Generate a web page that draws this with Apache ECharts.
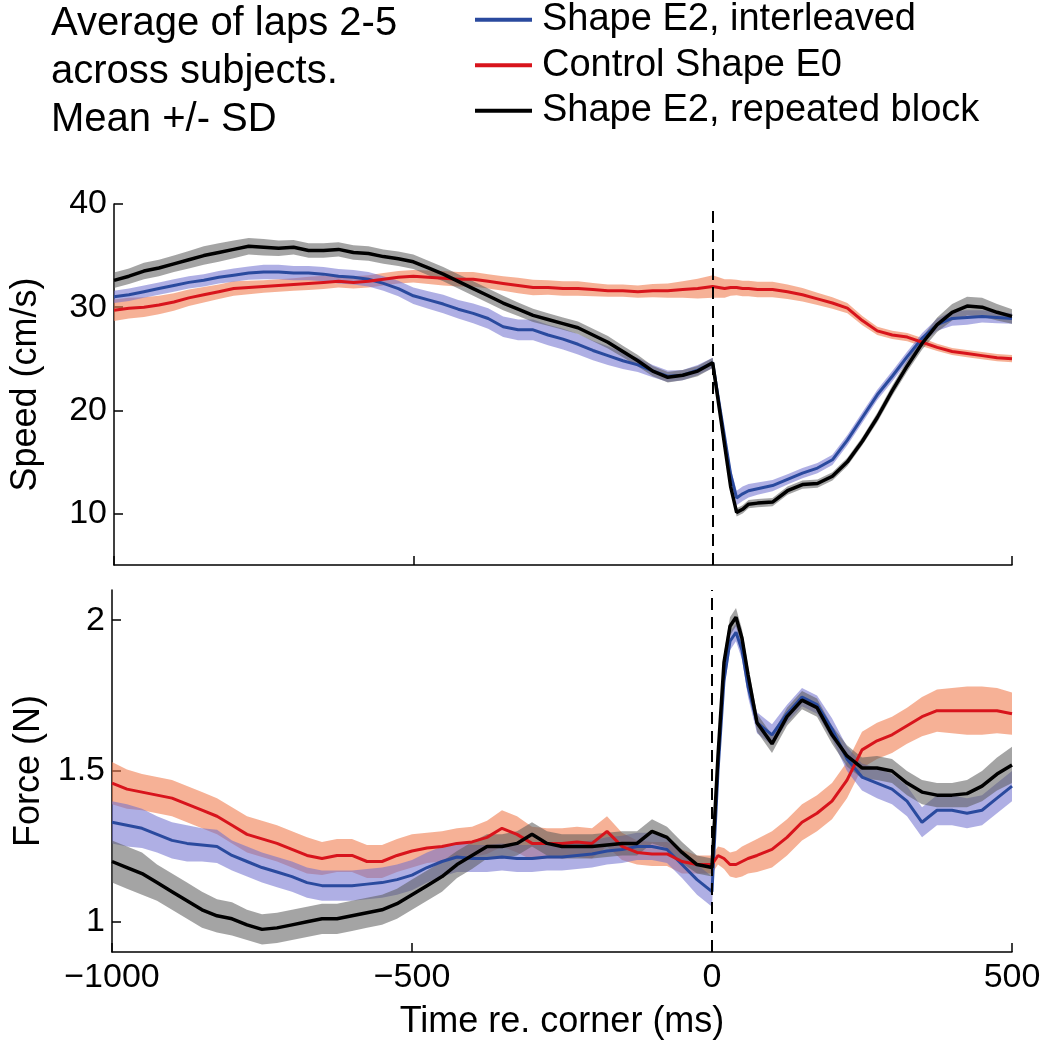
<!DOCTYPE html>
<html>
<head>
<meta charset="utf-8">
<script src="https://cdn.jsdelivr.net/npm/echarts@6/dist/echarts.min.js"></script>
<style>
  html, body { margin: 0; padding: 0; background: #ffffff; }
  #chart { width: 1044px; height: 1050px; }
</style>
</head>
<body>
<div id="chart"></div>
<script>
// ---------------- data ----------------
var seriesNames = ['Shape E2, interleaved', 'Control Shape E0', 'Shape E2, repeated block'];
var titleLines = ['Average of laps 2-5', 'across subjects.', 'Mean +/- SD'];

var times = [-1000,-975,-950,-925,-900,-875,-850,-825,-800,-775,-750,-725,-700,-675,-650,-625,-600,-575,-550,-525,
             -500,-475,-450,-425,-400,-375,-350,-325,-300,-275,-250,-225,-200,-175,-150,-125,-100,-75,-50,-25,
             0,10,20,30,40,50,60,
             75,100,125,150,175,200,225,250,275,300,325,350,375,400,425,450,475,500];

var xTicks = [-1000, -500, 0, 500];
var speedTicks = [10, 20, 30, 40];
var forceTicks = [1, 1.5, 2];

// Speed (cm/s) means
var speedInter = [31.0,31.2,31.5,31.8,32.1,32.4,32.6,32.9,33.1,33.3,33.4,33.4,33.3,33.3,33.2,33.0,32.9,32.7,32.3,31.8,
                  31.1,30.7,30.3,29.8,29.4,28.9,28.1,27.8,27.8,27.3,26.9,26.4,25.8,25.3,24.8,24.4,23.8,23.3,23.4,23.9,
                  24.6,21.0,17.4,13.8,11.5,11.9,12.2,
                  12.4,12.7,13.3,13.9,14.4,15.2,17.1,19.3,21.5,23.3,25.2,27.0,28.3,28.9,29.0,29.1,29.0,28.9];
var speedControl = [29.7,29.9,30.0,30.2,30.5,30.9,31.2,31.5,31.8,31.9,32.0,32.1,32.2,32.3,32.4,32.5,32.4,32.5,32.7,32.9,
                    33.0,32.9,32.8,32.7,32.7,32.5,32.3,32.1,31.9,31.9,31.8,31.8,31.7,31.6,31.6,31.5,31.6,31.6,31.7,31.8,
                    32.0,31.9,31.8,31.9,31.9,31.8,31.8,
                    31.7,31.7,31.5,31.2,30.8,30.4,29.9,28.7,27.7,27.3,27.1,26.6,26.1,25.7,25.5,25.3,25.1,25.0];
var speedBlock = [32.6,33.0,33.5,33.8,34.2,34.6,35.0,35.3,35.6,35.9,35.8,35.7,35.8,35.5,35.5,35.6,35.3,35.2,34.9,34.7,
                  34.4,33.8,33.2,32.5,31.8,31.1,30.4,29.8,29.2,28.8,28.4,28.0,27.3,26.6,25.7,24.8,23.8,23.2,23.4,23.8,
                  24.6,20.6,16.6,12.6,10.1,10.4,10.9,
                  11.0,11.1,12.2,12.8,12.9,13.6,15.0,17.0,19.3,21.9,24.3,26.5,28.3,29.5,30.1,30.0,29.5,29.1];
// Speed SD
var sdSpeedInter = [0.6,0.6,0.6,0.6,0.6,0.6,0.6,0.6,0.65,0.65,0.7,0.7,0.7,0.7,0.7,0.7,0.7,0.7,0.7,0.75,
                    0.8,0.85,0.9,0.9,0.95,1.0,1.0,1.0,1.0,1.0,1.0,1.0,0.95,0.9,0.8,0.7,0.6,0.55,0.5,0.5,
                    0.5,0.5,0.5,0.6,0.7,0.7,0.65,
                    0.6,0.55,0.5,0.5,0.5,0.5,0.5,0.5,0.5,0.5,0.5,0.5,0.6,0.7,0.7,0.6,0.55,0.5];
var sdSpeedControl = [1.05,1.0,0.95,0.9,0.85,0.8,0.75,0.7,0.7,0.65,0.6,0.6,0.6,0.65,0.65,0.6,0.6,0.6,0.6,0.6,
                      0.6,0.65,0.7,0.7,0.7,0.7,0.7,0.75,0.75,0.7,0.7,0.7,0.65,0.6,0.6,0.6,0.65,0.7,0.8,0.95,
                      1.1,1.0,0.9,0.8,0.75,0.75,0.75,
                      0.75,0.75,0.7,0.65,0.6,0.55,0.5,0.45,0.4,0.4,0.4,0.4,0.35,0.35,0.35,0.35,0.35,0.35];
var sdSpeedBlock = [0.75,0.75,0.8,0.8,0.8,0.85,0.9,0.9,0.85,0.8,0.8,0.75,0.7,0.7,0.7,0.7,0.7,0.7,0.7,0.7,
                    0.7,0.7,0.7,0.7,0.7,0.7,0.7,0.65,0.65,0.6,0.6,0.6,0.6,0.6,0.55,0.55,0.5,0.5,0.5,0.5,
                    0.5,0.4,0.4,0.4,0.4,0.4,0.4,
                    0.4,0.4,0.4,0.4,0.4,0.4,0.4,0.4,0.45,0.5,0.55,0.6,0.7,0.8,0.9,0.9,0.8,0.7];

// Force (N) means
var forceInter = [1.33,1.32,1.31,1.29,1.27,1.26,1.255,1.25,1.22,1.20,1.18,1.165,1.15,1.13,1.12,1.12,1.12,1.125,1.13,1.14,
                  1.155,1.18,1.20,1.215,1.21,1.21,1.215,1.21,1.21,1.215,1.215,1.22,1.225,1.235,1.24,1.25,1.25,1.24,1.19,1.14,
                  1.10,1.50,1.80,1.93,1.96,1.90,1.78,
                  1.66,1.62,1.69,1.745,1.72,1.64,1.54,1.48,1.46,1.44,1.40,1.33,1.37,1.37,1.36,1.37,1.41,1.45];
var forceControl = [1.46,1.44,1.43,1.42,1.41,1.39,1.37,1.35,1.32,1.29,1.275,1.26,1.24,1.22,1.21,1.22,1.22,1.20,1.20,1.22,
                    1.235,1.245,1.25,1.26,1.265,1.28,1.31,1.29,1.26,1.26,1.26,1.265,1.26,1.30,1.25,1.23,1.225,1.225,1.20,1.19,
                    1.19,1.22,1.21,1.19,1.19,1.20,1.21,
                    1.22,1.24,1.28,1.33,1.36,1.40,1.47,1.57,1.60,1.62,1.65,1.68,1.70,1.70,1.70,1.70,1.70,1.69];
var forceBlock = [1.20,1.18,1.16,1.13,1.10,1.07,1.04,1.02,1.01,0.99,0.975,0.98,0.99,1.00,1.01,1.01,1.02,1.03,1.04,1.06,
                  1.09,1.12,1.15,1.19,1.22,1.25,1.25,1.26,1.29,1.26,1.25,1.25,1.25,1.255,1.26,1.26,1.30,1.28,1.23,1.19,
                  1.18,1.55,1.86,1.98,2.01,1.94,1.82,
                  1.66,1.59,1.68,1.735,1.71,1.62,1.55,1.51,1.51,1.50,1.46,1.43,1.42,1.42,1.425,1.45,1.49,1.52];
// Force SD
var sdForceInter = [0.07,0.07,0.065,0.06,0.06,0.06,0.055,0.055,0.05,0.05,0.05,0.05,0.05,0.05,0.05,0.05,0.05,0.05,0.05,0.05,
                    0.05,0.05,0.05,0.05,0.045,0.045,0.045,0.045,0.045,0.045,0.045,0.045,0.045,0.045,0.045,0.045,0.045,0.045,0.045,0.05,
                    0.05,0.04,0.03,0.03,0.03,0.03,0.035,
                    0.035,0.035,0.03,0.03,0.03,0.035,0.04,0.045,0.05,0.05,0.05,0.05,0.05,0.05,0.05,0.05,0.05,0.05];
var sdForceControl = [0.07,0.065,0.06,0.06,0.06,0.06,0.06,0.06,0.06,0.06,0.06,0.06,0.06,0.06,0.055,0.055,0.055,0.055,0.055,0.055,
                      0.055,0.05,0.05,0.05,0.05,0.055,0.06,0.06,0.055,0.05,0.05,0.05,0.05,0.05,0.045,0.04,0.04,0.04,0.04,0.03,
                      0.03,0.03,0.035,0.04,0.045,0.05,0.05,
                      0.055,0.06,0.06,0.06,0.06,0.06,0.06,0.06,0.06,0.06,0.06,0.065,0.07,0.075,0.08,0.08,0.075,0.07];
var sdForceBlock = [0.07,0.07,0.07,0.06,0.06,0.06,0.06,0.055,0.055,0.05,0.05,0.05,0.05,0.05,0.05,0.05,0.05,0.05,0.05,0.05,
                    0.05,0.05,0.05,0.045,0.045,0.04,0.04,0.04,0.04,0.04,0.04,0.04,0.04,0.04,0.04,0.04,0.04,0.035,0.035,0.03,
                    0.03,0.03,0.03,0.03,0.03,0.03,0.03,
                    0.03,0.03,0.03,0.03,0.03,0.03,0.035,0.035,0.04,0.04,0.04,0.04,0.04,0.04,0.045,0.05,0.055,0.06];

// ---------------- styling ----------------
var FONT = '"Liberation Sans", Arial, Helvetica, sans-serif';
var lineColors = ['#2a4a9e', '#d8141c', '#000000'];
var bandColors = ['rgba(110,110,205,0.55)', 'rgba(240,125,80,0.6)', 'rgba(90,90,90,0.55)'];

function pairs(v) { return times.map(function (t, i) { return [t, v[i]]; }); }

function band(xi, yi, mean, sd, color) {
  return {
    type: 'custom', xAxisIndex: xi, yAxisIndex: yi, silent: true, z: 1, clip: true,
    data: [[times[0], mean[0]]],
    renderItem: function (params, api) {
      if (params.dataIndex !== 0) return;
      var up = [], dn = [];
      for (var i = 0; i < times.length; i++) {
        up.push(api.coord([times[i], mean[i] + sd[i]]));
        dn.push(api.coord([times[i], mean[i] - sd[i]]));
      }
      return { type: 'polygon', shape: { points: up.concat(dn.reverse()) }, style: { fill: color } };
    }
  };
}

function line(name, xi, yi, values, ci, width, withMark) {
  var s = {
    name: name, type: 'line', xAxisIndex: xi, yAxisIndex: yi, data: pairs(values),
    showSymbol: false, symbol: 'none', z: 3,
    color: lineColors[ci],
    itemStyle: { color: lineColors[ci] },
    lineStyle: { color: lineColors[ci], width: width }
  };
  if (withMark) {
    s.markLine = {
      silent: true, symbol: ['none', 'none'], label: { show: false },
      lineStyle: { color: '#000', type: [12, 7], width: 2 },
      data: [{ xAxis: 0 }], animation: false
    };
  }
  return s;
}

function minusFmt(v) { return String(v).replace('-', '\u2212'); }

var axisLineStyle = { show: true, onZero: false, lineStyle: { color: '#000', width: 1.5 } };
var tickStyle = { show: true, inside: true, length: 9, lineStyle: { color: '#000', width: 1.5 } };

var option = {
  backgroundColor: '#ffffff',
  animation: false,
  textStyle: { fontFamily: FONT },
  graphic: titleLines.map(function (t, i) {
    return { type: 'text', left: 51, top: 4 + i * 48,
      style: { text: t, font: '40px ' + FONT, fill: '#000' } };
  }),
  legend: {
    data: seriesNames, orient: 'vertical', left: 475, top: -3, padding: 0, itemGap: 0,
    icon: 'rect', itemWidth: 57, itemHeight: 4,
    selectedMode: false,
    textStyle: { fontSize: 38, fontFamily: FONT, color: '#000', lineHeight: 45.5, padding: [0, 0, 0, 5] }
  },
  grid: [
    { left: 112, top: 204, width: 900, height: 361 },
    { left: 112, top: 590, width: 900, height: 362 }
  ],
  xAxis: [
    { gridIndex: 0, type: 'value', min: -1000, max: 500, interval: 500,
      axisLine: axisLineStyle, axisTick: tickStyle, axisLabel: { show: false }, splitLine: { show: false } },
    { gridIndex: 1, type: 'value', min: -1000, max: 500, interval: 500,
      axisLine: axisLineStyle, axisTick: tickStyle, splitLine: { show: false },
      axisLabel: { fontSize: 34, color: '#000', margin: 9, fontFamily: FONT, formatter: minusFmt,
                   customValues: xTicks },
      name: 'Time re. corner (ms)', nameLocation: 'middle', nameGap: 52,
      nameTextStyle: { fontSize: 36, color: '#000', fontFamily: FONT } }
  ],
  yAxis: [
    { gridIndex: 0, type: 'value', min: 5, max: 40,
      axisLine: axisLineStyle, splitLine: { show: false },
      axisTick: Object.assign({ customValues: speedTicks }, tickStyle),
      axisLabel: { fontSize: 34, color: '#000', margin: 7, fontFamily: FONT, customValues: speedTicks },
      name: 'Speed (cm/s)', nameLocation: 'middle', nameGap: 70,
      nameTextStyle: { fontSize: 36, color: '#000', fontFamily: FONT } },
    { gridIndex: 1, type: 'value', min: 0.9, max: 2.1,
      axisLine: axisLineStyle, splitLine: { show: false },
      axisTick: Object.assign({ customValues: forceTicks }, tickStyle),
      axisLabel: { fontSize: 34, color: '#000', margin: 7, fontFamily: FONT, customValues: forceTicks },
      name: 'Force (N)', nameLocation: 'middle', nameGap: 64,
      nameTextStyle: { fontSize: 36, color: '#000', fontFamily: FONT } }
  ],
  series: [
    band(0, 0, speedControl, sdSpeedControl, bandColors[1]),
    band(0, 0, speedInter, sdSpeedInter, bandColors[0]),
    band(0, 0, speedBlock, sdSpeedBlock, bandColors[2]),
    band(1, 1, forceControl, sdForceControl, bandColors[1]),
    band(1, 1, forceInter, sdForceInter, bandColors[0]),
    band(1, 1, forceBlock, sdForceBlock, bandColors[2]),
    line(seriesNames[0], 0, 0, speedInter, 0, 3, false),
    line(seriesNames[1], 0, 0, speedControl, 1, 3, false),
    line(seriesNames[2], 0, 0, speedBlock, 2, 3.5, true),
    line(seriesNames[0], 1, 1, forceInter, 0, 3, false),
    line(seriesNames[1], 1, 1, forceControl, 1, 3, false),
    line(seriesNames[2], 1, 1, forceBlock, 2, 3.5, true)
  ]
};

var chart = echarts.init(document.getElementById('chart'), null, { renderer: 'canvas' });
chart.setOption(option);
</script>
</body>
</html>
